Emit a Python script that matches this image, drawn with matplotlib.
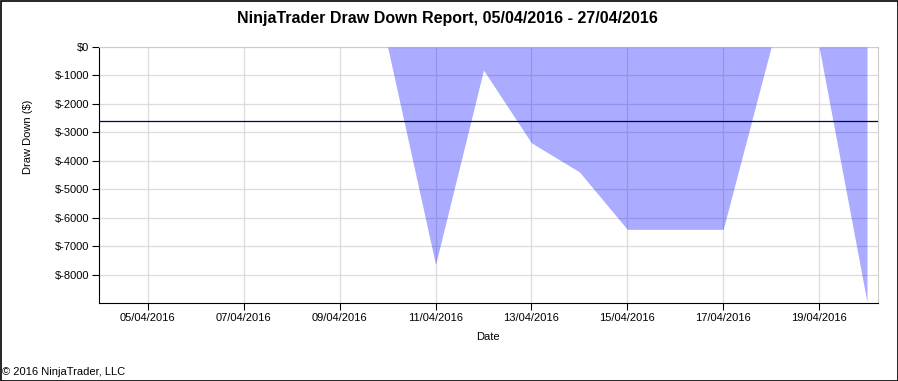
import datetime as dt
import matplotlib
matplotlib.use("Agg")
import matplotlib.pyplot as plt
import matplotlib.dates as mdates
from matplotlib.ticker import FuncFormatter
from matplotlib.patches import Rectangle

plt.rcParams['font.family'] = ['Liberation Sans', 'DejaVu Sans']

# daily draw down values
dates = [dt.datetime(2016, 4, d) for d in range(4, 21)]
drawdown = [0, 0, 0, 0, 0, 0, 0, -7650, -810, -3370, -4390, -6410, -6410, -6410,
            0, 0, -8970]
avg_drawdown = -2610
y_ticks = [0, -1000, -2000, -3000, -4000, -5000, -6000, -7000, -8000]

fig = plt.figure(figsize=(8.98, 3.81), dpi=100)
ax = fig.add_axes([99 / 898, 1 - 303 / 381, 779 / 898, 256 / 381])

ax.fill_between(dates, drawdown, 0, color='blue', alpha=0.33, linewidth=0, zorder=3)
ax.axhline(avg_drawdown, color='#000060', linewidth=0.9, zorder=4)

ax.set_ylim(-9000, 0)
ax.set_yticks(y_ticks)
ax.yaxis.set_major_formatter(FuncFormatter(lambda v, p: f"${int(v)}"))

ax.set_xlim(dt.datetime(2016, 4, 3, 23, 30), dt.datetime(2016, 4, 20, 5, 30))
ax.set_xticks([dt.datetime(2016, 4, d) for d in range(5, 20, 2)])
ax.xaxis.set_major_formatter(mdates.DateFormatter('%d/%m/%Y'))

ax.grid(True, color='#dcdcdc', linewidth=0.9, zorder=1)
ax.set_axisbelow(True)
for side in ('top', 'right'):
    ax.spines[side].set_color('#cccccc')
for side in ('left', 'bottom'):
    ax.spines[side].set_color('black')
ax.tick_params(axis='both', direction='out', length=5, width=0.8,
               labelsize=8, colors='black', pad=2)

fig.text(447 / 898, 1 - 18 / 381, "NinjaTrader Draw Down Report, 05/04/2016 - 27/04/2016",
         ha='center', va='center', fontsize=11.5, fontweight='bold')
fig.text(488 / 898, 1 - 337 / 381, "Date", ha='center', va='center', fontsize=8)
fig.text(28 / 898, 1 - 137 / 381, "Draw Down ($)", ha='center', va='center',
         rotation=90, fontsize=8)
fig.text(2 / 898, 1 - 372 / 381, "\u00a9 2016 NinjaTrader, LLC", ha='left', va='center',
         fontsize=8)

fig.patches.append(Rectangle((0.5 / 898, 0.5 / 381), 897 / 898, 380 / 381,
                             transform=fig.transFigure, fill=False,
                             edgecolor='black', linewidth=1.2))

fig.savefig("out.png", dpi=100)
